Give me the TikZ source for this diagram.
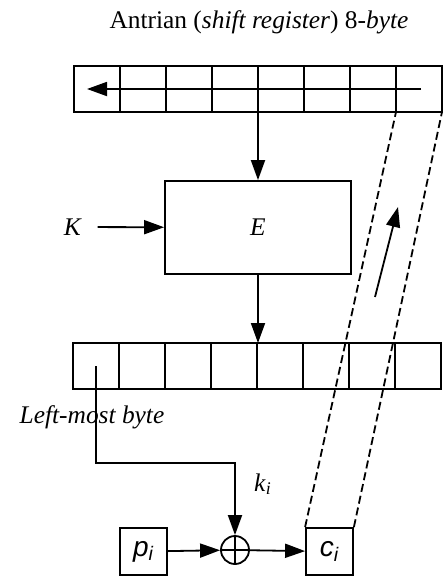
\documentclass[tikz,border=0pt]{standalone}
\usepackage{fontspec}
\setmainfont{Liberation Serif}
\setsansfont{Liberation Sans}
\usetikzlibrary{arrows.meta}

\begin{document}
\begin{tikzpicture}[
		x=0.5pt, y=-0.5pt,
		line width=0.9pt,
		>={Triangle[length=10pt, width=7pt]},
		every node/.style={font=\fontsize{12.7}{15}\selectfont},
		cell/.style={rectangle, draw, minimum width=23pt, minimum height=23pt, inner sep=0pt, outer sep=0pt},
		box/.style={rectangle, draw, minimum size=23.5pt, inner sep=0pt, font=\fontsize{14}{16}\sffamily\itshape}
	]
  \useasboundingbox (0,0) rectangle (446,580);
  \node (title) at (259,22) {Antrian (\textit{shift register}) 8-\textit{byte}};
  \foreach \i in {1,...,8} {
    \node (t\i) [cell] at (51+46*\i, 89) {};
    \node (b\i) [cell] at (50+46*\i, 366) {};
  }
  \draw[->] ([xshift=1pt]t8.center) -- ([xshift=-5pt]t1.center);
  \node (E) [rectangle, draw, minimum width=93pt, minimum height=46.5pt] at (258,227.5) {\textit{E}};
  \node (K) at (73,227) {\textit{K}};
  \draw[->] (t4.south east) -- (E.north);
  \draw[->] (K) edge [shorten <=4pt] (E);
  \draw[->] (E) -- (E |- b4.north);
  \node (lmb) at (92,417) {\textit{Left-most byte}};
  \node (xor) [circle, draw, minimum size=14pt, inner sep=0pt] at (235,550) {};
  \draw (xor.north) -- (xor.south) (xor.west) -- (xor.east);
  \node (p) [box] at (143.5,551.5) {p\textsubscript{i}};
  \node (c) [box] at (329.5,551.5) {c\textsubscript{i}};
  \node (ki) at (263,484) {\textit{k}\textsubscript{\textit{i}}};
  \draw[->] (b1.center) -- ++(0,97) -| (xor.north);
  \draw[->] (p) -- (xor);
  \draw[->] (xor) -- (c);
  \draw[dash pattern=on 4pt off 2pt] (c.north west) -- (t8.south west);
  \draw[dash pattern=on 4pt off 2pt] (c.north east) -- (t8.south east);
  \coordinate (up0) at (375,297);
  \coordinate (up1) at (398,207);
  \draw[->] (up0) -- (up1);
\end{tikzpicture}
\end{document}
